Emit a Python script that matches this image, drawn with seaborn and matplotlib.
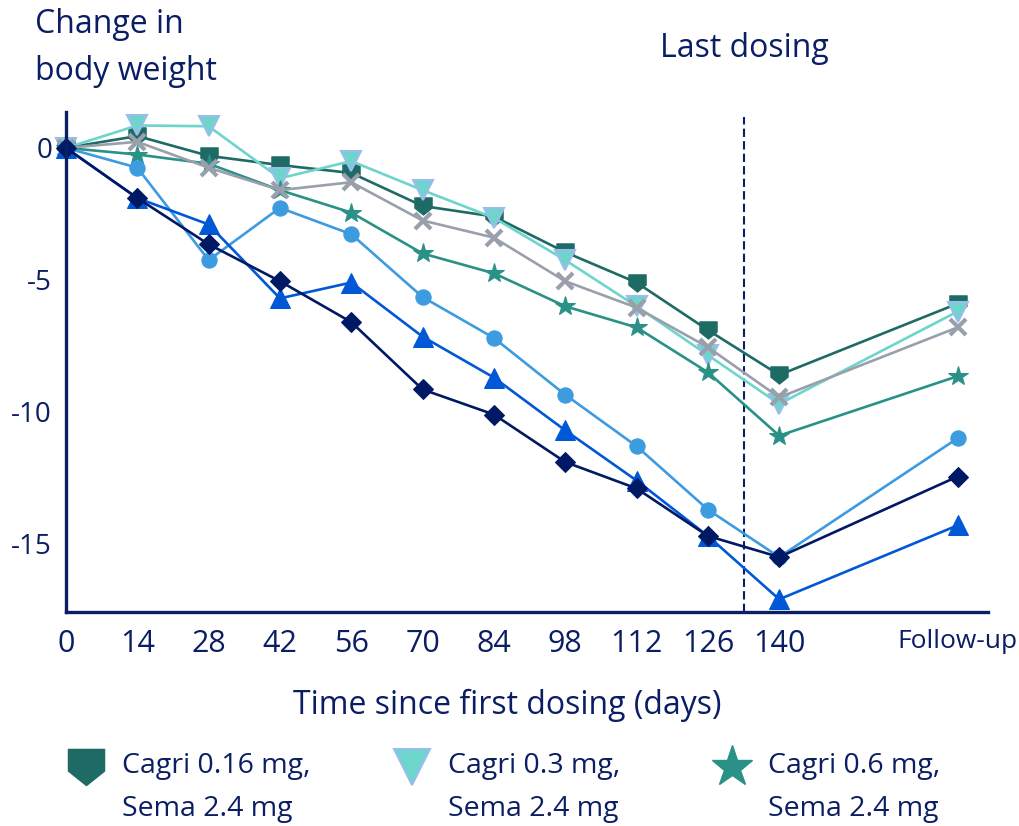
import numpy as np
import pandas as pd
import seaborn as sns
import matplotlib.pyplot as plt
from matplotlib.path import Path
from matplotlib.lines import Line2D

# days since first dosing; follow-up placed at day 175
days = [0, 14, 28, 42, 56, 70, 84, 98, 112, 126, 140, 175]
tick_labels = ["0", "14", "28", "42", "56", "70", "84", "98", "112", "126", "140", "Follow-up"]
y_ticks = [0, -5, -10, -15]
y_tick_labels = ["0", "-5", "-10", "-15"]

# change in body weight (%)
cagri_016 = [0, 0.45, -0.3, -0.65, -0.95, -2.2, -2.6, -3.95, -5.1, -6.9, -8.6, -5.9]
cagri_03 = [0, 0.85, 0.82, -1.15, -0.5, -1.6, -2.65, -4.25, -6.0, -7.85, -9.7, -6.2]
cagri_06 = [0, -0.25, -0.6, -1.6, -2.45, -4.0, -4.75, -6.0, -6.8, -8.5, -10.9, -8.65]
placebo = [0, 0.23, -0.75, -1.6, -1.3, -2.75, -3.4, -5.05, -6.05, -7.55, -9.45, -6.8]
cagri_12 = [0, -0.75, -4.25, -2.27, -3.27, -5.65, -7.2, -9.35, -11.3, -13.7, -15.5, -11.0]
cagri_24 = [0, -1.9, -2.9, -5.7, -5.1, -7.15, -8.7, -10.7, -12.6, -14.7, -17.1, -14.3]
cagri_45 = [0, -1.9, -3.65, -5.05, -6.6, -9.15, -10.1, -11.9, -12.9, -14.7, -15.5, -12.45]

NAVY = "#0b1e64"

# pentagon pointing down
pent = Path([(-1, 1), (1, 1), (1, -0.2), (0, -1), (-1, -0.2), (-1, 1)],
            [Path.MOVETO, Path.LINETO, Path.LINETO, Path.LINETO, Path.LINETO, Path.CLOSEPOLY])

# (label, values, plot style, legend marker size)
series = [
    ("Cagri 0.16 mg,\nSema 2.4 mg", cagri_016, dict(color="#1e6b66", marker=pent, ms=12.5, mec="#1e6b66"), 26),
    ("Cagri 0.3 mg,\nSema 2.4 mg", cagri_03, dict(color="#6dd5cc", marker="v", ms=14, mec="#9bbcec", mew=1.5), 26),
    ("Cagri 0.6 mg,\nSema 2.4 mg", cagri_06, dict(color="#2a9187", marker="*", ms=14.5, mec="#2a9187"), 31),
    ("Placebo,\nSema 2.4 mg", placebo, dict(color="#9a9fac", marker="x", ms=11, mew=3, mec="#9a9fac"), 22),
    ("Cagri 1.2 mg,\nSema 2.4 mg", cagri_12, dict(color="#3d9be0", marker="o", ms=11, mec="#3d9be0"), 22),
    ("Cagri 2.4 mg,\nSema 2.4 mg", cagri_24, dict(color="#0058d6", marker="^", ms=15, mec="#0058d6"), 26),
    ("Cagri 4.5 mg,\nSema 2.4 mg", cagri_45, dict(color="#001964", marker="D", ms=10.5, mec="#001964"), 22),
]

sns.set_style("white")
plt.rcParams["font.family"] = ["Open Sans", "DejaVu Sans"]

fig = plt.figure(figsize=(10.2, 8.26), dpi=100)
ax = fig.add_axes([0.0647, 0.2591, 0.904, 0.6053])

for name, vals, kw, _ in series:
    df = pd.DataFrame({"day": days, "change": vals})
    sns.lineplot(data=df, x="day", y="change", ax=ax, lw=1.9, clip_on=False,
                 legend=False, **kw)

ax.set_xlim(0, 181)
ax.set_ylim(-17.58, 1.36)

# last dosing marker
ax.vlines(133, -17.58, 1.17, colors=NAVY, linestyles=(0, (4, 2)), lw=1.5, zorder=1)

ax.set_xticks(days)
ax.set_xticklabels(tick_labels, fontsize=22, color=NAVY)
ax.get_xticklabels()[-1].set_fontsize(19)
ax.set_yticks(y_ticks)
ax.set_yticklabels(y_tick_labels, fontsize=20, color=NAVY)
ax.tick_params(axis="x", length=0, pad=12)
ax.tick_params(axis="y", length=0, pad=10)

sns.despine(ax=ax)
for s in ["left", "bottom"]:
    ax.spines[s].set_color(NAVY)
    ax.spines[s].set_linewidth(2.4)

ax.set_xlabel("Time since first dosing (days)", fontsize=23, color=NAVY)
ax.xaxis.label.set_va("center")
ax.xaxis.set_label_coords(0.479, -0.186)
ax.set_ylabel("")

fig.text(35 / 1020, 1 - 33 / 826, "Change in", fontsize=23, color=NAVY, va="baseline")
fig.text(35 / 1020, 1 - 80 / 826, "body weight", fontsize=23, color=NAVY, va="baseline")
fig.text(660 / 1020, 1 - 57 / 826, "Last dosing", fontsize=23, color=NAVY, va="baseline")

# legend: only the first three entries are visible
leg_x = [66, 392, 712]
for (name, vals, kw, leg_ms), x0 in zip(series[:3], leg_x):
    hkw = dict(kw)
    hkw["ms"] = leg_ms
    hkw.pop("color")
    h = Line2D([], [], linestyle="none", color=kw["color"], **hkw)
    leg = fig.legend(handles=[h], labels=[name], loc="upper left",
                     bbox_to_anchor=(x0 / 1020, 1 - 737 / 826), frameon=False,
                     fontsize=20.5, handlelength=1.4, handletextpad=0.565,
                     handleheight=5.5, borderpad=0, borderaxespad=0)
    for t in leg.get_texts():
        t.set_color(NAVY)
        t.set_linespacing(1.7)

fig.savefig("out.png", dpi=100)
